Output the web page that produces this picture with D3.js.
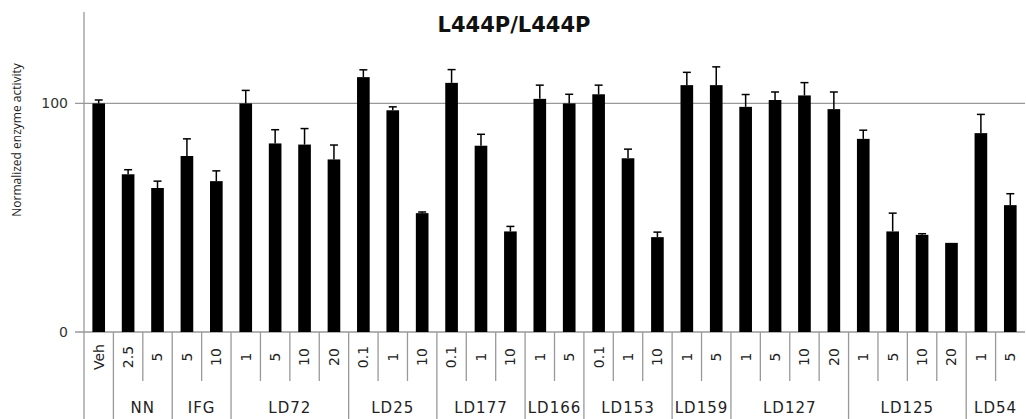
<!DOCTYPE html>
<html>
<head>
<meta charset="utf-8">
<script src="https://cdn.jsdelivr.net/npm/d3@7"></script>
<style>
    body { margin: 0; background: #fff; }
    svg { display: block; }
    .axis-label { font-family: 'Open Sans', sans-serif; font-size: 12px; fill: #222; }
    .tick-label { font-family: 'DejaVu Sans', sans-serif; font-size: 14px; fill: #333; }
    .cat-label { font-family: 'DejaVu Sans', sans-serif; font-size: 14px; fill: #222; }
    .group-label { font-family: 'DejaVu Sans', sans-serif; font-size: 15px; fill: #222; letter-spacing: 1px; }
    .title { font-family: 'DejaVu Sans', sans-serif; font-size: 21px; font-weight: bold; fill: #111; }
</style>
</head>
<body>
<svg id="chart"></svg>
<script>
//DATA

//compound groups and how many doses each has
var groups = ['', 'NN', 'IFG', 'LD72', 'LD25', 'LD177', 'LD166', 'LD153', 'LD159', 'LD127', 'LD125', 'LD54'];
var groupSizes = [1, 2, 2, 4, 3, 3, 2, 3, 2, 4, 4, 2];

//dose label of each bar
var doses = ['Veh', '2.5', '5', '5', '10', '1', '5', '10', '20', '0.1', '1', '10',
    '0.1', '1', '10', '1', '5', '0.1', '1', '10', '1', '5', '1', '5', '10', '20',
    '1', '5', '10', '20', '1', '5'];

//normalized activity per bar
var values = [100, 69, 63, 77, 66, 100, 82.5, 82, 75.5, 111.5, 97, 52,
    109, 81.5, 44, 102, 100, 104, 76, 41.5, 108, 108, 98.5, 101.5, 103.5, 97.5,
    84.5, 44, 42.5, 39, 87, 55.5];

//upper error bar (sd)
var errors = [1.5, 2, 3, 7.5, 4.5, 5.7, 6, 7, 6.3, 3.2, 1.5, 0.5,
    5.8, 5, 2.2, 6, 4, 4, 4, 2.2, 5.6, 8, 5.4, 3.5, 5.6, 7.5,
    3.8, 8, 0.5, 0, 8.2, 5];

var yTicks = [0, 100];

//CHART
function drawChart() {
    var svg = d3.select('#chart')
        .attr('width', 1026)
        .attr('height', 419);

    var margin = {top: 12, right: 1, bottom: 87, left: 84},
        width = +svg.attr('width') - margin.left - margin.right,
        height = +svg.attr('height') - margin.top - margin.bottom;

    //one record per bar
    var data = values.map((v, i) => ({i: i, value: v, err: errors[i], dose: doses[i]}));

    //scales
    var xScale = d3.scaleBand()
        .domain(d3.range(values.length))
        .range([0, width])
        .padding(0);

    var yScale = d3.scaleLinear()
        .domain([0, 140])
        .range([height, 0]);

    var barW = xScale.bandwidth() * 0.43;
    var cx = d => xScale(d.i) + xScale.bandwidth() / 2;

    var canvas = svg.append('g')
        .attr('transform', 'translate(' + margin.left + ',' + margin.top + ')');

    //y axis line
    canvas.append('line')
        .attr('x1', 0).attr('x2', 0)
        .attr('y1', 0).attr('y2', height)
        .attr('stroke', '#999').attr('stroke-width', 1.3);

    //horizontal lines at ticks (gridline at 100, baseline at 0)
    canvas.selectAll('.hline').data(yTicks)
        .enter().append('line')
            .attr('class', 'hline')
            .attr('x1', -9).attr('x2', width)
            .attr('y1', d => yScale(d)).attr('y2', d => yScale(d))
            .attr('stroke', '#999').attr('stroke-width', 1.3);

    //y tick labels
    canvas.selectAll('.tick-label').data(yTicks)
        .enter().append('text')
            .attr('class', 'tick-label')
            .attr('x', -16)
            .attr('y', d => yScale(d))
            .attr('dy', '0.36em')
            .attr('text-anchor', 'end')
            .text(d => d);

    //y axis label
    canvas.append('text')
        .attr('class', 'axis-label')
        .attr('transform', 'translate(' + (17 - margin.left) + ',128) rotate(-90)')
        .attr('text-anchor', 'middle')
        .attr('dy', '0.35em')
        .text('Normalized enzyme activity');

    //title
    canvas.append('text')
        .attr('class', 'title')
        .attr('x', 514 - margin.left)
        .attr('y', 32 - margin.top)
        .attr('text-anchor', 'middle')
        .text('L444P/L444P');

    //bars
    canvas.selectAll('.bar').data(data)
        .enter().append('rect')
            .attr('class', 'bar')
            .attr('x', d => cx(d) - barW / 2)
            .attr('y', d => yScale(d.value))
            .attr('width', barW)
            .attr('height', d => height - yScale(d.value))
            .attr('fill', '#000');

    //error bars (upper only)
    var err = canvas.selectAll('.err').data(data.filter(d => d.err > 0))
        .enter().append('g')
            .attr('class', 'err')
            .attr('transform', d => 'translate(' + cx(d) + ',0)');

    err.append('line')
        .attr('x1', 0).attr('x2', 0)
        .attr('y1', d => yScale(d.value))
        .attr('y2', d => yScale(d.value + d.err))
        .attr('stroke', '#000').attr('stroke-width', 1.5);

    err.append('line')
        .attr('x1', -4).attr('x2', 4)
        .attr('y1', d => yScale(d.value + d.err))
        .attr('y2', d => yScale(d.value + d.err))
        .attr('stroke', '#000').attr('stroke-width', 1.5);

    //group boundaries
    var starts = [0];
    groupSizes.forEach((s, i) => starts.push(starts[i] + s));
    var boundarySet = new Set(starts);

    //separators between categories
    canvas.selectAll('.sep').data(d3.range(1, values.length))
        .enter().append('line')
            .attr('class', 'sep')
            .attr('x1', d => xScale(d)).attr('x2', d => xScale(d))
            .attr('y1', height)
            .attr('y2', d => boundarySet.has(d) ? height + margin.bottom : height + 49)
            .attr('stroke', '#999').attr('stroke-width', 1.3);

    //left separator under axis
    canvas.append('line')
        .attr('x1', 0).attr('x2', 0)
        .attr('y1', height).attr('y2', height + margin.bottom)
        .attr('stroke', '#999').attr('stroke-width', 1.3);

    //dose labels
    canvas.selectAll('.cat-label').data(data)
        .enter().append('text')
            .attr('class', 'cat-label')
            .attr('transform', d => 'translate(' + cx(d) + ',' + (height + 25) + ') rotate(-90)')
            .attr('text-anchor', 'middle')
            .attr('dy', '0.35em')
            .text(d => d.dose);

    //group labels
    canvas.selectAll('.group-label').data(groups)
        .enter().append('text')
            .attr('class', 'group-label')
            .attr('x', (d, i) => (xScale(starts[i]) + xScale(starts[i + 1] - 1) + xScale.bandwidth()) / 2)
            .attr('y', height + 81)
            .attr('text-anchor', 'middle')
            .text(d => d);
}

drawChart();
</script>
</body>
</html>
